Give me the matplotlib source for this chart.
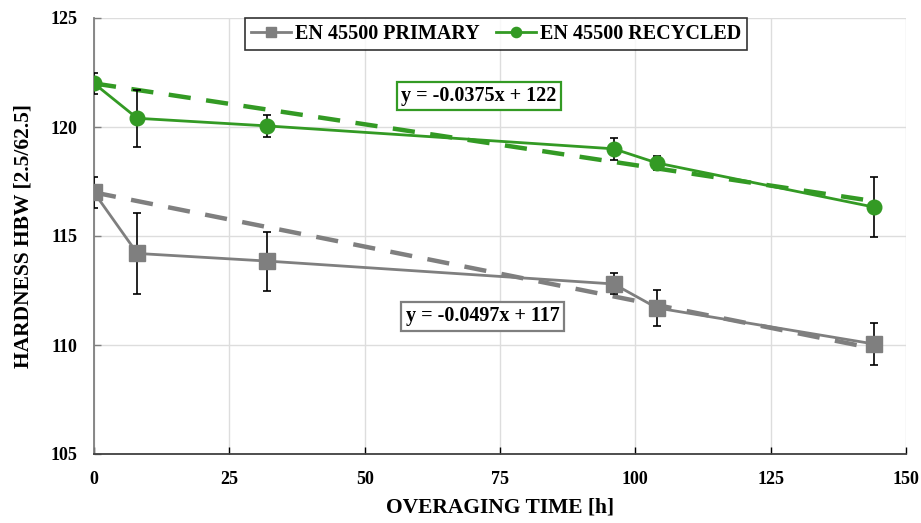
import matplotlib
matplotlib.use("Agg")
import matplotlib.pyplot as plt
import numpy as np

time_h = [0, 8, 32, 96, 104, 144]
primary = [117.0, 114.2, 113.85, 112.8, 111.7, 110.05]
primary_err = [0.7, 1.85, 1.35, 0.48, 0.82, 0.98]
recycled = [122.0, 120.4, 120.05, 119.0, 118.35, 116.33]
recycled_err = [0.47, 1.3, 0.5, 0.5, 0.3, 1.37]
trend_primary = (-0.0497, 117)
trend_recycled = (-0.0375, 122)
labels = ["EN 45500 PRIMARY", "EN 45500 RECYCLED"]

GRAY = "#7f7f7f"
GREEN = "#339a24"

plt.rcParams['font.family'] = ['Liberation Serif', 'DejaVu Serif']
plt.rcParams['font.weight'] = 'bold'

fig = plt.figure(figsize=(9.21, 5.23), dpi=100)
ax = fig.add_axes([94/921, 1-454/523, 812/921, 436/523])

xt = np.array([time_h[0], time_h[-1]])
for (m, b), c in [(trend_primary, GRAY), (trend_recycled, GREEN)]:
    ax.plot(xt, m*xt + b, color=c, lw=3.2, ls=(0, (5, 3.5)), zorder=3)

ax.errorbar(time_h, primary, yerr=primary_err, fmt='none', ecolor='black',
            elinewidth=1.2, capsize=3, capthick=1.2, zorder=4)
ax.errorbar(time_h, recycled, yerr=recycled_err, fmt='none', ecolor='black',
            elinewidth=1.2, capsize=3, capthick=1.2, zorder=4)
ax.plot(time_h, primary, color=GRAY, lw=2, marker='s', ms=11, label=labels[0], zorder=5)
ax.plot(time_h, recycled, color=GREEN, lw=2, marker='o', ms=10.5, label=labels[1], zorder=5)

ax.text(71.1, 121.42, "y = -0.0375x + 122", ha='center', va='center', fontsize=14.5,
        fontweight='bold', bbox=dict(boxstyle='square,pad=0.22', fc='white', ec=GREEN, lw=1.6), zorder=6)
ax.text(71.8, 111.31, "y = -0.0497x + 117", ha='center', va='center', fontsize=14.5,
        fontweight='bold', bbox=dict(boxstyle='square,pad=0.22', fc='white', ec=GRAY, lw=1.6), zorder=6)

ax.set_xlim(0, 150)
ax.set_ylim(105, 125)
ax.set_xticks(np.arange(0, 151, 25))
ax.set_yticks(np.arange(105, 126, 5))
ax.grid(True, color='#dddddd', lw=1)
ax.set_axisbelow(True)
for s in ['top', 'right']:
    ax.spines[s].set_visible(False)
ax.spines['left'].set_color(GRAY)
ax.spines['left'].set_linewidth(1.3)
ax.spines['bottom'].set_color('#404040')
ax.spines['bottom'].set_linewidth(1.3)
ax.tick_params(direction='in', length=5, labelsize=13, width=1, pad=12)
ax.tick_params(axis='y', colors=GRAY, labelcolor='black')
for lab in ax.get_xticklabels() + ax.get_yticklabels():
    lab.set_fontweight('bold')

ax.set_xlabel("OVERAGING TIME [h]", fontsize=15.5, fontweight='bold', labelpad=7)
ax.set_ylabel("HARDNESS HBW [2.5/62.5]", fontsize=15.5, fontweight='bold', labelpad=12)

leg = ax.legend(loc='upper center', bbox_to_anchor=(0.495, 1.0), ncol=2, fontsize=14.5,
                frameon=True, fancybox=False, edgecolor='black', handlelength=2.0,
                handletextpad=0.2, columnspacing=0.8, borderpad=0.3, markerscale=0.7,
                borderaxespad=0)
leg.get_frame().set_linewidth(1.2)
for t in leg.get_texts():
    t.set_fontweight('bold')

fig.savefig("out.png", dpi=100)
